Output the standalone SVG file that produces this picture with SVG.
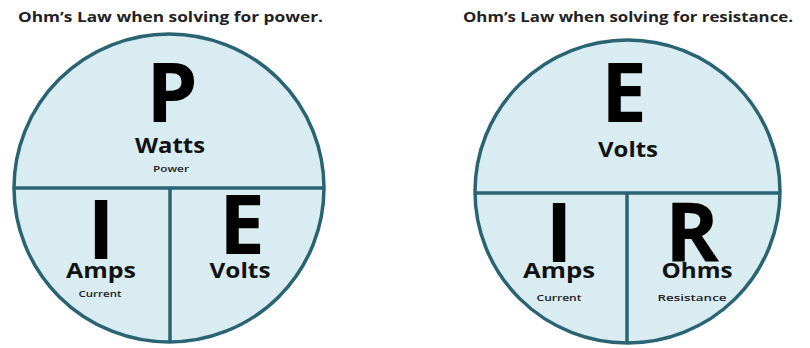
<svg xmlns="http://www.w3.org/2000/svg" width="810" height="348" viewBox="0 0 810 348">
<style>
.circ{fill:#d9ecf2;stroke:#2a6473;stroke-width:3.5}
.div{stroke:#2a6473;stroke-width:3.5;fill:none}
.title{font-family:"Open Sans","Liberation Sans",sans-serif;font-weight:bold;font-size:14px;fill:#222}
.big{font-family:"Open Sans","Liberation Sans",sans-serif;font-weight:bold;font-size:82px;fill:#000;text-anchor:middle}
.unit{font-family:"Open Sans","Liberation Sans",sans-serif;font-weight:bold;font-size:21px;fill:#111;text-anchor:middle}
.sub{font-family:"Open Sans","Liberation Sans",sans-serif;font-weight:600;font-size:9px;fill:#222;text-anchor:middle}
</style>
<rect width="810" height="348" fill="#ffffff"/>
<text class="title" x="18" y="22" textLength="305" lengthAdjust="spacingAndGlyphs">Ohm’s Law when solving for power.</text>
<text class="title" x="463" y="22" textLength="330" lengthAdjust="spacingAndGlyphs">Ohm’s Law when solving for resistance.</text>
<g id="power-circle">
<ellipse class="circ" cx="169" cy="188" rx="155" ry="154"/>
</g>
<g id="resistance-circle">
<ellipse class="circ" cx="627.5" cy="191.5" rx="152.5" ry="151.5"/>
</g>
<g id="connectors">
<line class="div" x1="14" y1="188" x2="324" y2="188"/>
<line class="div" x1="170" y1="188" x2="170" y2="342"/>
<line class="div" x1="475" y1="193" x2="780" y2="193"/>
<line class="div" x1="627" y1="193" x2="627" y2="343"/>
</g>
<g id="node-P">
<text class="big" x="172" y="122">P</text>
<text class="unit" x="170" y="153" textLength="70" lengthAdjust="spacingAndGlyphs">Watts</text>
<text class="sub" x="171" y="172" textLength="36" lengthAdjust="spacingAndGlyphs">Power</text>
</g>
<g id="node-I-left">
<text class="big" x="101" y="259">I</text>
<text class="unit" x="101" y="278" textLength="70" lengthAdjust="spacingAndGlyphs">Amps</text>
<text class="sub" x="100" y="297" textLength="43" lengthAdjust="spacingAndGlyphs">Current</text>
</g>
<g id="node-E-left">
<text class="big" x="242" y="254">E</text>
<text class="unit" x="240" y="278" textLength="61" lengthAdjust="spacingAndGlyphs">Volts</text>
</g>
<g id="node-E-right">
<text class="big" x="624" y="122">E</text>
<text class="unit" x="628" y="157" textLength="60" lengthAdjust="spacingAndGlyphs">Volts</text>
</g>
<g id="node-I-right">
<text class="big" x="559" y="262">I</text>
<text class="unit" x="559" y="278" textLength="72" lengthAdjust="spacingAndGlyphs">Amps</text>
<text class="sub" x="559" y="301" textLength="45" lengthAdjust="spacingAndGlyphs">Current</text>
</g>
<g id="node-R">
<text class="big" x="692" y="262">R</text>
<text class="unit" x="697" y="278" textLength="71" lengthAdjust="spacingAndGlyphs">Ohms</text>
<text class="sub" x="692" y="301" textLength="69" lengthAdjust="spacingAndGlyphs">Resistance</text>
</g>
</svg>
